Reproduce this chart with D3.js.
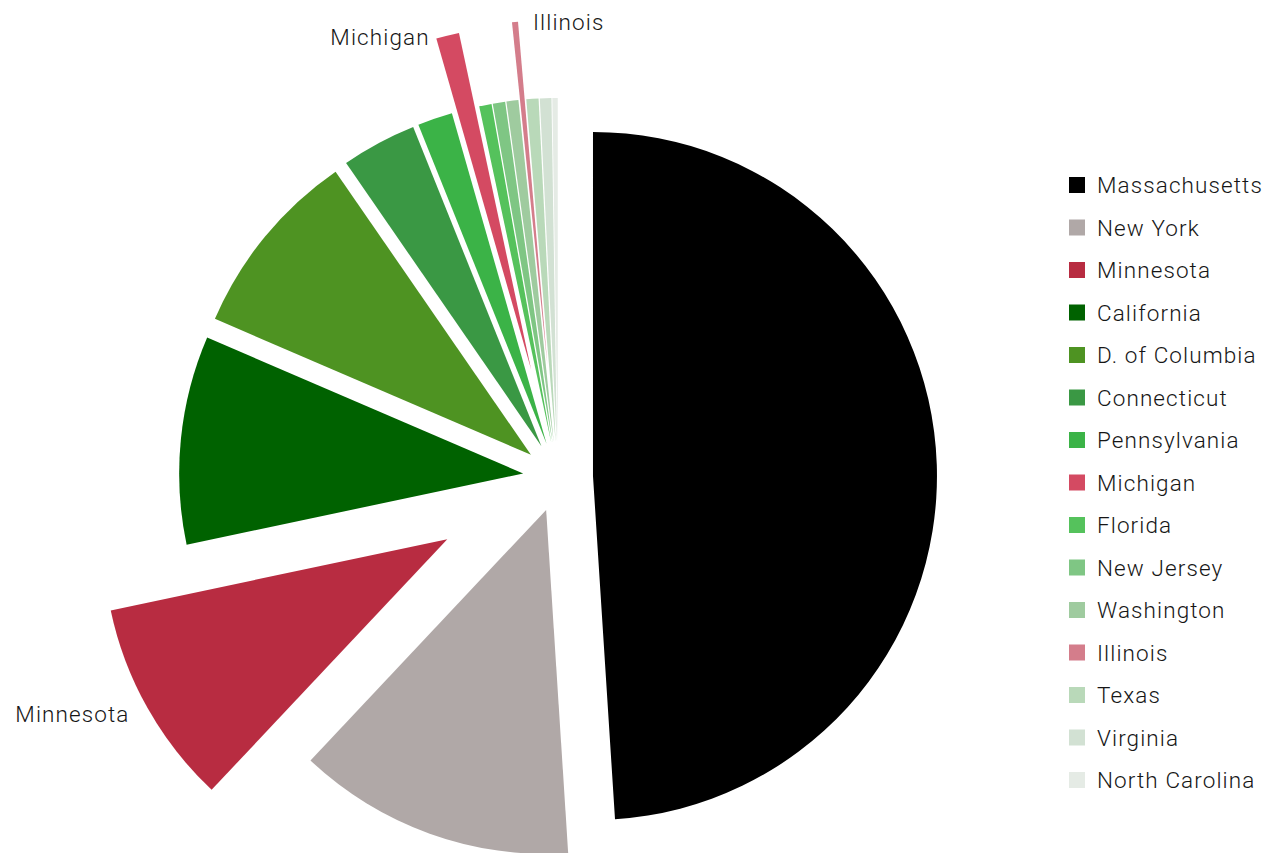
<!DOCTYPE html>
<html>
<head>
<meta charset="utf-8">
<script src="https://cdn.jsdelivr.net/npm/d3@7"></script>
<style>
  body { margin: 0; background: #fff; }
  svg text { font-family: "Helvetica Neue", Roboto, "Liberation Sans", sans-serif; font-weight: 300; fill: #161616; letter-spacing: 1.1px; }
</style>
</head>
<body>
<div id="chart"></div>
<script>
// share of total, in legend order (clockwise from 12 o'clock)
var states = ['Massachusetts', 'New York', 'Minnesota', 'California', 'D. of Columbia',
              'Connecticut', 'Pennsylvania', 'Michigan', 'Florida', 'New Jersey',
              'Washington', 'Illinois', 'Texas', 'Virginia', 'North Carolina'];
var shares = [48.97, 13.03, 9.67, 9.78, 8.92, 3.53, 1.64, 1.08, 0.58, 0.58, 0.56, 0.28, 0.57, 0.54, 0.25];
var labelled = ['Minnesota', 'Michigan', 'Illinois'];

var colors = ['#000000', '#b0a8a7', '#b82c41', '#006200', '#4e9322',
              '#3a9844', '#3bb347', '#d44a62', '#55c25c', '#7fc684',
              '#9fcb9f', '#d47d8b', '#b9d9b9', '#d2e1d3', '#e5ebe5'];

var width = 1271, height = 853;
var cx = 558, cy = 477, radius = 344;
var pullOut = 35;
var pulledFar = {'Minnesota': 127, 'Michigan': 111, 'Illinois': 113};
var labelSide = {'Minnesota': 'end', 'Michigan': 'end', 'Illinois': 'start'};
var labelNudge = {'Minnesota': 14, 'Michigan': 9, 'Illinois': 8};

var svg = d3.select('#chart')
  .append('svg')
    .attr('width', width)
    .attr('height', height);

var data = states.map(function(s, i) { return {name: s, value: shares[i], color: colors[i]}; });

var pie = d3.pie()
  .sort(null)
  .value(function(d) { return d.value; });

var arc = d3.arc()
  .innerRadius(0)
  .outerRadius(radius);

var slices = pie(data);

function offsetOf(d) {
  return pulledFar[d.data.name] || pullOut;
}
function midAngle(d) {
  return (d.startAngle + d.endAngle) / 2;
}

var g = svg.append('g')
  .attr('transform', 'translate(' + cx + ',' + cy + ')');

g.selectAll('path.slice')
  .data(slices)
  .enter()
  .append('path')
    .attr('class', 'slice')
    .attr('d', arc)
    .attr('fill', function(d) { return d.data.color; })
    .attr('transform', function(d) {
      var a = midAngle(d), o = offsetOf(d);
      return 'translate(' + (Math.sin(a) * o) + ',' + (-Math.cos(a) * o) + ')';
    });

// labels for the pulled slices
g.selectAll('text.label')
  .data(slices.filter(function(d) { return labelled.indexOf(d.data.name) >= 0; }))
  .enter()
  .append('text')
    .attr('class', 'label')
    .attr('font-size', 22.5)
    .attr('text-anchor', function(d) { return labelSide[d.data.name]; })
    .attr('x', function(d) {
      var a = midAngle(d), rr = radius + offsetOf(d);
      var side = labelSide[d.data.name] == 'end' ? -18 : 18;
      return Math.sin(a) * rr + side;
    })
    .attr('y', function(d) {
      var a = midAngle(d), rr = radius + offsetOf(d);
      return -Math.cos(a) * rr + labelNudge[d.data.name];
    })
    .text(function(d) { return d.data.name; });

// legend
var legend = svg.append('g')
  .attr('transform', 'translate(1069,177)');

var rows = legend.selectAll('g.row')
  .data(data)
  .enter()
  .append('g')
    .attr('class', 'row')
    .attr('transform', function(d, i) { return 'translate(0,' + (i * 42.5) + ')'; });

rows.append('rect')
  .attr('width', 16)
  .attr('height', 16)
  .attr('fill', function(d) { return d.color; });

rows.append('text')
  .attr('x', 28)
  .attr('y', 16)
  .attr('font-size', 22.5)
  .text(function(d) { return d.name; });
</script>
</body>
</html>
